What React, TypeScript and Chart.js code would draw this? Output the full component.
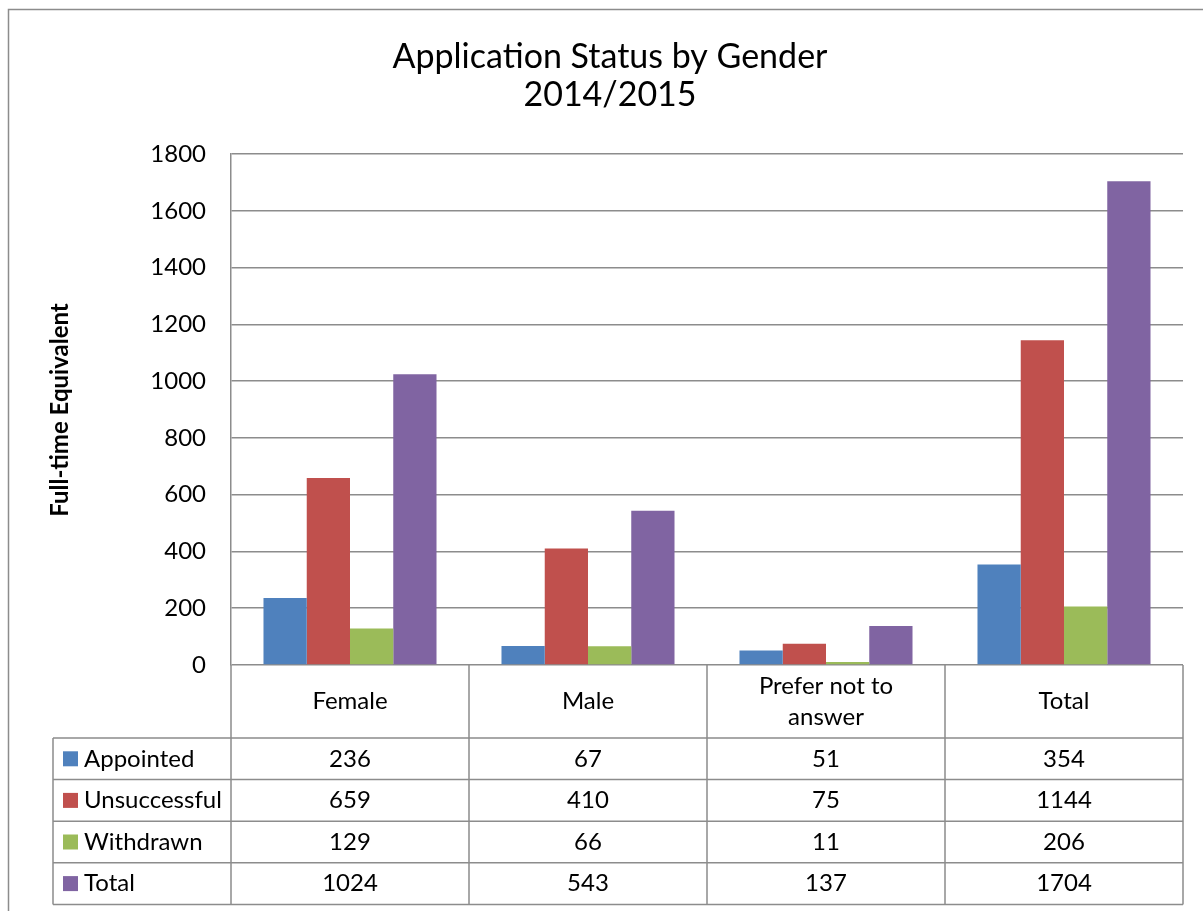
import React, { useEffect, useRef } from 'react';
import { Chart, registerables } from 'chart.js';

Chart.register(...registerables);

// ---- Data ----
const categories = ['Female', 'Male', 'Prefer not to answer', 'Total'];
const categoryLines = [['Female'], ['Male'], ['Prefer not to', 'answer'], ['Total']];
const seriesNames = ['Appointed', 'Unsuccessful', 'Withdrawn', 'Total'];
const appointed = [236, 67, 51, 354];
const unsuccessful = [659, 410, 75, 1144];
const withdrawn = [129, 66, 11, 206];
const totals = [1024, 543, 137, 1704];
const seriesColors = ['#4F81BD', '#C0504D', '#9BBB59', '#8064A2'];
const titleLines = ['Application Status by Gender', '2014/2015'];
const yAxisTitle = 'Full-time Equivalent';
const yMin = 0;
const yMax = 1800;
const yStep = 200;

const FONT = 'Lato, "Open Sans", sans-serif';
const LINE = '#8c8c8c';

const W = 1203;
const H = 911;

const decorPlugin = {
  id: 'decor',
  afterDraw(chart: any) {
    const ctx: CanvasRenderingContext2D = chart.ctx;
    const area = chart.chartArea;
    ctx.save();

    // outer frame
    ctx.strokeStyle = LINE;
    ctx.lineWidth = 1.5;
    ctx.strokeRect(8.5, 9.5, W + 20, H + 20);

    // title
    ctx.fillStyle = '#000';
    ctx.textAlign = 'center';
    ctx.textBaseline = 'alphabetic';
    ctx.font = `34px ${FONT}`;
    ctx.fillText(titleLines[0], 610, 68);
    ctx.fillText(titleLines[1], 610, 106);

    // y axis title
    ctx.save();
    ctx.translate(60, 410);
    ctx.rotate(-Math.PI / 2);
    ctx.font = `bold 24px ${FONT}`;
    ctx.textBaseline = 'middle';
    ctx.fillText(yAxisTitle, 0, 0);
    ctx.restore();

    // data table
    const n = categories.length;
    const catW = (area.right - area.left) / n;
    const headerTop = area.bottom;
    const headerBottom = headerTop + 73;
    const rowH = 41.6;
    const tableLeft = 53;
    const rows = [appointed, unsuccessful, withdrawn, totals];
    const tableBottom = headerBottom + rowH * rows.length;

    ctx.strokeStyle = LINE;
    ctx.lineWidth = 1.5;
    ctx.beginPath();
    for (let i = 0; i <= n; i++) {
      const x = area.left + catW * i;
      ctx.moveTo(x, headerTop);
      ctx.lineTo(x, tableBottom);
    }
    ctx.moveTo(tableLeft, headerBottom);
    ctx.lineTo(tableLeft, tableBottom);
    for (let r = 0; r <= rows.length; r++) {
      const y = headerBottom + rowH * r;
      ctx.moveTo(tableLeft, y);
      ctx.lineTo(area.right, y);
    }
    ctx.stroke();

    // header labels
    ctx.fillStyle = '#000';
    ctx.font = `24px ${FONT}`;
    ctx.textAlign = 'center';
    ctx.textBaseline = 'middle';
    const xScale = chart.scales.x;
    for (let i = 0; i < n; i++) {
      const cx = xScale.getPixelForValue(i);
      const lines = categoryLines[i];
      const lh = 31;
      const cy = (headerTop + headerBottom) / 2;
      lines.forEach((ln, k) => {
        ctx.fillText(ln, cx, cy + (k - (lines.length - 1) / 2) * lh);
      });
    }

    // rows
    rows.forEach((vals, r) => {
      const cy = headerBottom + rowH * r + rowH / 2;
      ctx.fillStyle = seriesColors[r];
      ctx.fillRect(63, cy - 7.5, 15, 15);
      ctx.fillStyle = '#000';
      ctx.textAlign = 'left';
      ctx.fillText(seriesNames[r], 84, cy);
      ctx.textAlign = 'center';
      vals.forEach((v, i) => {
        ctx.fillText(String(v), xScale.getPixelForValue(i), cy);
      });
    });

    ctx.restore();
  },
};

export default function App() {
  const ref = useRef<HTMLCanvasElement | null>(null);

  useEffect(() => {
    document.body.style.margin = '0';
    const canvas = ref.current;
    if (!canvas) return;
    const seriesData = [appointed, unsuccessful, withdrawn, totals];
    const chart = new Chart(canvas, {
      type: 'bar',
      data: {
        labels: categories,
        datasets: seriesNames.map((name, i) => ({
          label: name,
          data: seriesData[i],
          backgroundColor: seriesColors[i],
          borderWidth: 0,
          categoryPercentage: 0.727,
          barPercentage: 1,
        })),
      },
      options: {
        responsive: false,
        animation: false,
        devicePixelRatio: 1,
        layout: { padding: { left: 0, top: 154, right: W - 1183, bottom: H - 665 } },
        plugins: {
          legend: { display: false },
          title: { display: false },
          tooltip: { enabled: false },
        },
        scales: {
          x: { display: false, offset: true },
          y: {
            min: yMin,
            max: yMax,
            ticks: {
              stepSize: yStep,
              color: '#000',
              padding: 25,
              font: { family: FONT, size: 24 },
              callback: (v: any) => String(v),
            },
            grid: { color: LINE, lineWidth: 1.5, drawTicks: false },
            border: { display: true, color: LINE, width: 1.5 },
            afterFit(scale: any) {
              scale.width = 231;
            },
          },
        },
      },
      plugins: [decorPlugin],
    });
    return () => chart.destroy();
  }, []);

  return (
    <div style={{ width: W, height: H, position: 'relative', background: '#fff' }}>
      <canvas ref={ref} width={W} height={H} style={{ display: 'block' }} />
    </div>
  );
}
